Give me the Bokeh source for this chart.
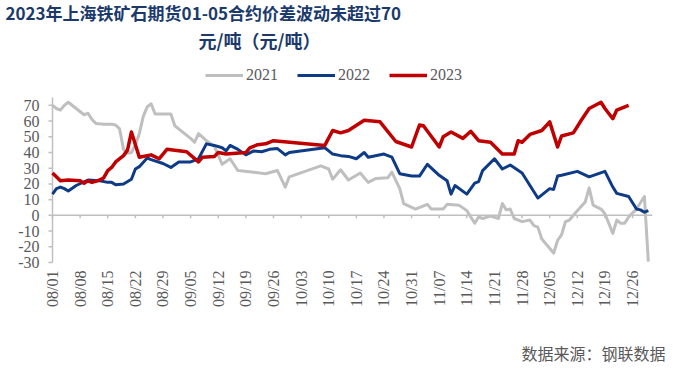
import pandas as pd
from math import pi
from bokeh.plotting import figure
from bokeh.models import Range1d, Label, Legend, LegendItem
from bokeh.core.properties import value
from bokeh.embed import file_html
from bokeh.resources import INLINE

# ---------------- data ----------------
x_tick_labels = ["08/01", "08/08", "08/15", "08/22", "08/29", "09/05", "09/12", "09/19",
                 "09/26", "10/03", "10/10", "10/17", "10/24", "10/31", "11/07", "11/14",
                 "11/21", "11/28", "12/05", "12/12", "12/19", "12/26"]
y_ticks = [-30, -20, -10, 0, 10, 20, 30, 40, 50, 60, 70]

d2021 = ["08/01", "08/02", "08/03", "08/04", "08/05", "08/07", "08/09", "08/10", "08/11", "08/12",
         "08/14", "08/16", "08/17", "08/18", "08/19", "08/20", "08/21", "08/22", "08/23", "08/24",
         "08/25", "08/26", "08/27", "08/29", "08/31", "09/01", "09/03", "09/05", "09/06", "09/07",
         "09/09", "09/11", "09/13", "09/15", "09/17", "09/21", "09/24", "09/27", "09/29", "09/30",
         "10/08", "10/10", "10/11", "10/13", "10/15", "10/18", "10/20", "10/22", "10/25", "10/26",
         "10/28", "10/29", "11/01", "11/04", "11/05", "11/08", "11/09", "11/12", "11/14", "11/16",
         "11/17", "11/18", "11/20", "11/22", "11/23", "11/24", "11/25", "11/26", "11/28", "11/30",
         "12/01", "12/02", "12/03", "12/06", "12/07", "12/08", "12/09", "12/10", "12/12", "12/14",
         "12/15", "12/16", "12/18", "12/19", "12/21", "12/22", "12/23", "12/24", "12/25", "12/27",
         "12/29", "12/30"]
v2021 = [70, 68, 67, 70, 72, 68, 64, 65, 61, 58.5,
         58, 58, 57.5, 55, 42, 39.5, 40, 45, 52, 63,
         69, 71, 64.5, 64.5, 64.5, 57, 53, 49, 46.5, 52,
         47.5, 44, 32.5, 36, 28.5, 27.5, 26.5, 28.5, 18, 24.5,
         31.5, 29.5, 23, 29, 22.5, 27, 21, 23.5, 24, 27.5,
         17, 7.5, 4, 7, 4, 4, 7, 6.5, 3, -5,
         -1, -2, -0.5, -2, 7.5, 3.5, 4, -2, -4, -3,
         -6.5, -7.5, -15, -24, -16, -12.5, -4, -3, 3, 8.5,
         17.5, 6.5, 4, 1, -11.5, -3, -5, -5, -1, 4,
         12, -29.5]

d2022 = ["08/01", "08/02", "08/03", "08/04", "08/05", "08/07", "08/10", "08/13", "08/15", "08/16",
         "08/17", "08/19", "08/21", "08/22", "08/23", "08/25", "08/26", "08/29", "08/31", "09/02",
         "09/05", "09/07", "09/09", "09/11", "09/13", "09/14", "09/15", "09/17", "09/19", "09/21",
         "09/23", "09/25", "09/27", "09/29", "09/30", "10/09", "10/10", "10/11", "10/13", "10/15",
         "10/17", "10/19", "10/20", "10/24", "10/26", "10/28", "10/31", "11/02", "11/04", "11/07",
         "11/09", "11/10", "11/11", "11/14", "11/16", "11/17", "11/18", "11/21", "11/23", "11/25",
         "11/28", "12/02", "12/05", "12/06", "12/07", "12/08", "12/12", "12/15", "12/19", "12/21",
         "12/22", "12/25", "12/27", "12/28", "12/29", "12/30"]
v2022 = [13.5, 17, 18, 17, 15.5, 19, 22.5, 22, 21, 21,
         19.5, 20, 23, 29.5, 31, 36.5, 35.5, 33, 30.5, 34,
         34, 36, 45.5, 44.5, 43, 41, 44.5, 42, 38.5, 41,
         40.5, 42, 42.5, 38.5, 40, 43, 41, 39, 38, 37.5,
         36, 40, 37, 39, 37, 26.5, 25, 25, 32.5, 25.5,
         22, 13.5, 19, 13.5, 20.5, 21.5, 28.5, 36, 29.5, 32,
         27, 11, 17, 16.5, 25, 25.5, 28, 24.5, 28, 18,
         14, 12, 4, 3.5, 2, 3]

d2023 = ["08/01", "08/03", "08/05", "08/08", "08/09", "08/10", "08/11", "08/13", "08/14", "08/15",
         "08/16", "08/17", "08/19", "08/20", "08/21", "08/23", "08/26", "08/28", "08/30", "09/04",
         "09/07", "09/08", "09/11", "09/12", "09/14", "09/19", "09/20", "09/22", "09/24", "09/26",
         "10/09", "10/11", "10/13", "10/15", "10/19", "10/23", "10/27", "10/31", "11/02", "11/03",
         "11/07", "11/08", "11/10", "11/13", "11/15", "11/17", "11/20", "11/23", "11/26", "11/27",
         "11/28", "11/30", "12/03", "12/05", "12/07", "12/08", "12/11", "12/13", "12/15", "12/18",
         "12/19", "12/21", "12/22", "12/25"]
v2023 = [27, 22, 22.5, 22, 20.5, 22, 21, 22.5, 24, 28.5,
         30.5, 34, 38, 41.5, 53, 37, 38.5, 36, 42, 40.5,
         34, 37, 37.5, 40, 39, 40, 43, 45, 45.5, 47.5,
         44.5, 54, 52.5, 54, 60.5, 59.5, 47, 43.5, 57.5, 57,
         43.5, 50, 53, 49, 53.5, 47.5, 46.5, 39, 39, 47.5,
         46.5, 51.5, 54, 59.5, 43.5, 50.5, 52.5, 60.5, 68, 72,
         68, 61.5, 67, 70]

series_names = ["2021", "2022", "2023"]
series_colors = ["#BFBFBF", "#0E3B85", "#C00000"]

BASE = pd.Timestamp("2000-08-01")


def to_day(dates):
    return [(pd.Timestamp("2000/" + d) - BASE).days for d in dates]


tick_days = to_day(x_tick_labels)
x_end = to_day(["12/31"])[0]

# ---------------- geometry ----------------
# The plot frame covers the whole canvas so no annotation is clipped;
# the axes are drawn from the tick arrays.
W, H = 674, 368
axis_x_px = 52          # page x of the y axis (day 0)
axis_top_px = 97        # page y of the axis top
px_per_day = 3.946
px_per_unit = 1.5714
y_axis_top, y_axis_bottom = 75, -30
axis_bottom_px = axis_top_px + (y_axis_top - y_axis_bottom) * px_per_unit
y_hi = y_axis_top + axis_top_px / px_per_unit
y_lo = y_axis_bottom - (H - axis_bottom_px) / px_per_unit
x_lo = -axis_x_px / px_per_day
x_hi = (W - axis_x_px) / px_per_day

p = figure(width=W, height=H, output_backend="svg", toolbar_location=None,
           x_range=Range1d(x_lo, x_hi), y_range=Range1d(y_lo, y_hi), min_border=0)
p.outline_line_color = None
p.grid.visible = False
p.axis.visible = False

axis_col = "#BFBFBF"
lab_col = "#595959"
n_y, n_x = len(y_ticks), len(x_tick_labels)

# y axis: line, outward ticks, labels
p.segment(x0=[0], y0=[y_axis_bottom], x1=[0], y1=[y_axis_top], line_color=axis_col, line_width=1.5)
p.segment(x0=[0] * n_y, y0=y_ticks, x1=[-4 / px_per_day] * n_y, y1=y_ticks,
          line_color=axis_col, line_width=1.5)
p.text(x=[-13 / px_per_day] * n_y, y=y_ticks, text=[str(t) for t in y_ticks],
       text_align="right", text_baseline="middle",
       text_font=value("Liberation Serif"), text_font_size="16px", text_color=lab_col)

# zero line with tick marks, and rotated date labels below the plot
p.segment(x0=[0], y0=[0], x1=[x_end], y1=[0], line_color=axis_col, line_width=1.5)
p.segment(x0=tick_days, y0=[0] * n_x, x1=tick_days, y1=[-3 / px_per_unit] * n_x,
          line_color=axis_col, line_width=1.5)
p.text(x=tick_days, y=[y_axis_bottom - 8 / px_per_unit] * n_x, text=x_tick_labels,
       angle=pi / 2, text_align="right", text_baseline="middle",
       text_font=value("Liberation Serif"), text_font_size="16px", text_color=lab_col)

# series
renderers = []
for dates, vals, col, w in [(d2021, v2021, series_colors[0], 3),
                            (d2022, v2022, series_colors[1], 3),
                            (d2023, v2023, series_colors[2], 3.5)]:
    r = p.line(to_day(dates), vals, line_color=col, line_width=w, line_join="round")
    renderers.append(r)

legend = Legend(items=[LegendItem(label=n, renderers=[r]) for n, r in zip(series_names, renderers)],
                orientation="horizontal", location=(205, H - 75 - 9),
                glyph_width=38, glyph_height=16, label_standoff=3, spacing=19,
                padding=0, margin=0, border_line_color=None, background_fill_alpha=0,
                label_text_font="Liberation Serif", label_text_font_size="16px",
                label_text_color=lab_col, label_height=16)
p.add_layout(legend)

# titles and source
title_color = "#1B3A6B"
p.add_layout(Label(x=5, y=H - 12, x_units="screen", y_units="screen",
                   text="2023年上海铁矿石期货01-05合约价差波动未超过70", text_baseline="middle",
                   text_font="Noto Sans CJK SC", text_font_style="bold", text_font_size="17px",
                   text_color=title_color))
p.add_layout(Label(x=198, y=H - 39, x_units="screen", y_units="screen",
                   text="元/吨（元/吨）", text_baseline="middle",
                   text_font="Noto Sans CJK SC", text_font_style="bold", text_font_size="18px",
                   text_color=title_color))
p.add_layout(Label(x=665, y=H - 352, x_units="screen", y_units="screen",
                   text="数据来源：钢联数据", text_baseline="middle", text_align="right",
                   text_font="Noto Sans CJK SC", text_font_size="16px", text_color=lab_col))

open("out.html", "w").write(file_html(p, INLINE))
